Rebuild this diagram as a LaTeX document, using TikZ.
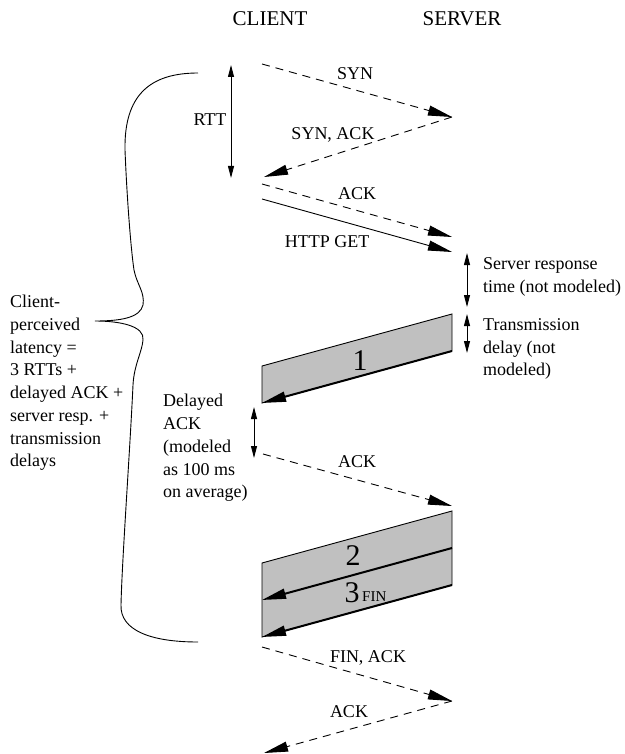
\documentclass[tikz,border=0pt]{standalone}
\usepackage{fontspec}
\setmainfont{Liberation Serif}
\usetikzlibrary{arrows.meta}
\definecolor{pktgray}{RGB}{192,192,192}
\begin{document}
\begin{tikzpicture}[x=1pt,y=-1pt,
  lbl/.style={font=\fontsize{18}{22.7}\selectfont, inner sep=0pt},
  hdr/.style={font=\fontsize{21}{24}\selectfont, inner sep=0pt},
  lblL/.style={lbl, align=left, anchor=west},
  bignum/.style={font=\fontsize{30}{30}\selectfont, inner sep=0pt},
  msg/.style={line width=0.9pt, dash pattern=on 8pt off 6pt, -{Triangle[length=24pt,width=10pt]}},
  req/.style={line width=0.9pt, -{Triangle[length=24pt,width=10pt]}},
  span/.style={line width=0.9pt, {Triangle[length=12pt,width=6pt]}-{Triangle[length=12pt,width=6pt]}},
  pkt/.style={draw, line width=0.9pt, fill=pktgray},
  pktarrow/.style={line width=2pt, -{Triangle[length=24pt,width=10pt]}},
  ]
\useasboundingbox (0,0) rectangle (624,754);

% headers
\node[hdr] (client) at (270,19) {CLIENT};
\node[hdr] (server) at (462,19) {SERVER};

% coordinates
\coordinate (c1) at (262,64);
\coordinate (s1) at (452,117);
\coordinate (c2) at (264,177);
\coordinate (c3) at (262,184);
\coordinate (s3) at (452,237);
\coordinate (c4) at (262,199);
\coordinate (s4) at (452,252);
\coordinate (rttT) at (231,65);
\coordinate (rttB) at (231,178);
\coordinate (srT) at (467,253);
\coordinate (srB) at (467,307);
\coordinate (tdT) at (467,314);
\coordinate (tdB) at (467,353);
\coordinate (p1a) at (452,314);
\coordinate (p1b) at (452,351);
\coordinate (p1c) at (262,403);
\coordinate (p1d) at (262,366);
\coordinate (daT) at (254,407);
\coordinate (daB) at (254,458);
\coordinate (c5) at (263,454);
\coordinate (s5) at (452,506);
\coordinate (p2a) at (452,511);
\coordinate (p2m) at (452,548);
\coordinate (p2b) at (452,585);
\coordinate (p2c) at (262,637);
\coordinate (p2n) at (262,600);
\coordinate (p2d) at (262,563);
\coordinate (c6) at (262,647);
\coordinate (s6) at (452,701);
\coordinate (c7) at (264,753);

% handshake
\draw[msg] (c1) -- (s1);
\node[lbl] (synlbl) at (355,74) {SYN};
\draw[msg] (s1) -- (c2);
\node[lbl] (synacklbl) at (333,135) {SYN, ACK};
\draw[span] (rttT) -- (rttB);
\node[lbl] (rttlbl) at (210,120) {RTT};
\draw[msg] (c3) -- (s3);
\node[lbl] (acklbl1) at (357,194) {ACK};
\draw[req] (c4) -- (s4);
\node[lbl] (getlbl) at (327,242) {HTTP GET};

% server side
\draw[span] (srT) -- (srB);
\node[lblL] (srlbl) at (483,277) {Server response\\time (not modeled)};
\draw[span] (tdT) -- (tdB);
\node[lblL] (tdlbl) at (483,349) {Transmission\\delay (not\\modeled)};

% packet 1
\draw[pkt] (p1a) -- (p1b) -- (p1c) -- (p1d) -- cycle;
\draw[pktarrow] (p1b) -- (p1c);
\node[bignum] (n1) at (360,361) {1};

% delayed ack
\draw[span] (daT) -- (daB);
\node[lblL] (dalbl) at (163,448) {Delayed\\ACK\\(modeled\\as 100 ms\\on average)};
\draw[msg] (c5) -- (s5);
\node[lbl] (acklbl2) at (357,462) {ACK};

% packets 2 and 3
\draw[pkt] (p2a) -- (p2b) -- (p2c) -- (p2d) -- cycle;
\draw[pktarrow] (p2m) -- (p2n);
\draw[pktarrow] (p2b) -- (p2c);
\node[bignum] (n2) at (353,556) {2};
\node[bignum] (n3) at (352,593) {3};
\node[font=\fontsize{15}{15}\selectfont, inner sep=0pt, anchor=west] (finlbl) at (362,597) {FIN};

% teardown
\draw[msg] (c6) -- (s6);
\node[lbl] (finacklbl) at (368,658) {FIN, ACK};
\draw[msg] (s6) -- (c7);
\node[lbl] (acklbl3) at (349,712) {ACK};

% brace
\draw[line width=0.9pt] (198,73) .. controls (150,73) and (124,95) .. (125,150)
  .. controls (127,200) and (131,250) .. (134,270)
  .. controls (137,285) and (145,292) .. (143,305)
  .. controls (140,318) and (120,321) .. (95,321)
  .. controls (120,321) and (145,326) .. (143,340)
  .. controls (142,352) and (134,365) .. (133,385)
  .. controls (130,450) and (122,560) .. (121,605)
  .. controls (120,630) and (150,642) .. (198,642);

% left label
\node[lblL] (latlbl) at (10,383) {Client-\\perceived\\latency =\\3 RTTs +\\delayed ACK +\\server resp. +\\transmission\\delays};
\end{tikzpicture}
\end{document}
